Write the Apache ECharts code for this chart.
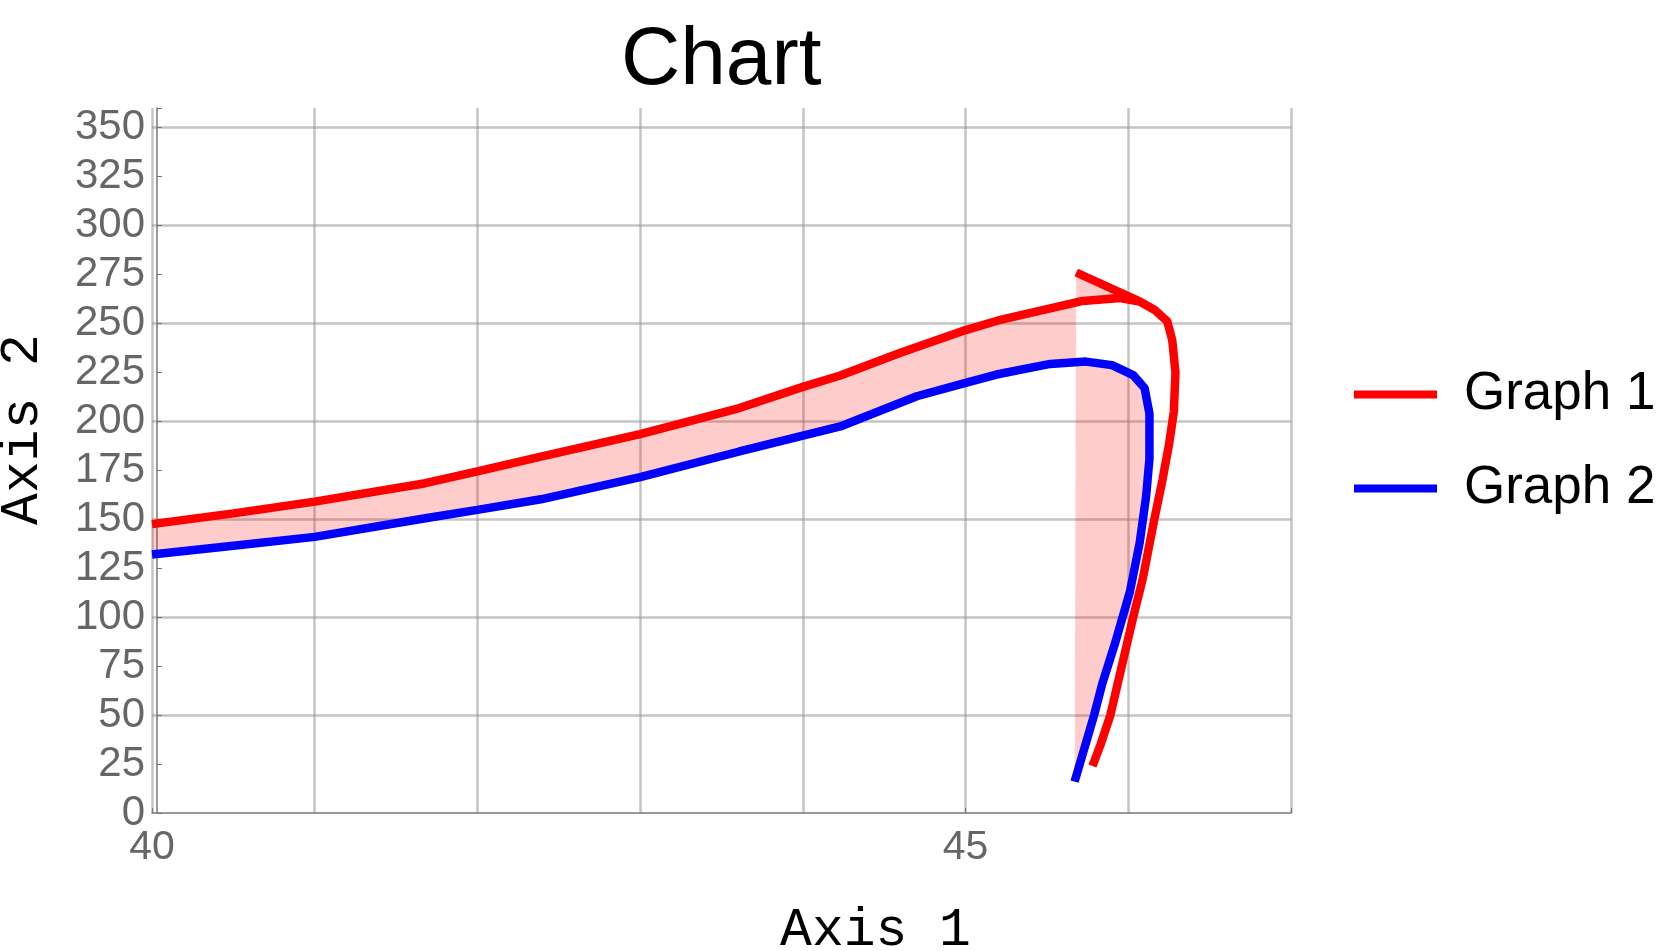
<!DOCTYPE html>
<html>
<head>
<meta charset="utf-8">
<script src="https://cdn.jsdelivr.net/npm/echarts@6/dist/echarts.min.js"></script>
<style>html,body{margin:0;padding:0;background:#fff}#c{width:1679px;height:951px}</style>
</head>
<body>
<div id="c"></div>
<script>
// ---- data ----
const seriesNames = ['Graph 1', 'Graph 2'];
const graph1X = [40.0, 40.5, 41.0, 41.68, 42.0, 42.39, 43.0, 43.61, 44.0, 44.23, 44.6, 45.0, 45.2, 45.46, 45.72, 45.95, 46.07, 46.16, 46.24, 46.27, 46.29, 46.28, 46.25, 46.21, 46.16, 46.09, 46.03, 45.96, 45.89, 45.83, 45.78];
const graph1Y = [147.5, 153.0, 159.0, 168.4, 174.4, 182.0, 193.5, 206.8, 217.6, 223.4, 235.0, 246.6, 251.5, 256.5, 261.5, 263.0, 261.2, 257.0, 251.0, 241.5, 225.0, 205.0, 188.0, 170.0, 150.0, 120.0, 100.0, 75.0, 50.0, 35.0, 24.0];
const graph1JoinIndex = 16;           // point where the extra segment meets the curve
const graph1ExtraX = [45.68];         // start of the extra straight segment
const graph1ExtraY = [276.0];
const graph2X = [40.0, 40.5, 41.0, 41.68, 42.0, 42.39, 43.0, 43.61, 44.0, 44.23, 44.7, 45.0, 45.19, 45.52, 45.74, 45.90, 46.03, 46.10, 46.13, 46.13, 46.11, 46.07, 46.01, 45.92, 45.84, 45.79, 45.67];
const graph2Y = [132.0, 136.5, 141.0, 150.5, 154.8, 160.2, 171.5, 184.6, 192.7, 197.4, 212.8, 219.6, 223.9, 229.3, 230.5, 228.7, 223.6, 217.0, 204.0, 181.0, 162.0, 138.0, 113.0, 87.0, 66.0, 50.0, 16.0];
const xLabelValues = [40, 45];
const yLabelValues = [0, 25, 50, 75, 100, 125, 150, 175, 200, 225, 250, 275, 300, 325, 350];

// ---- build ----
const g1 = graph1X.map((x, i) => [x, graph1Y[i]]);
g1.push(['-', '-']);
g1.push([graph1ExtraX[0], graph1ExtraY[0]]);
g1.push([graph1X[graph1JoinIndex], graph1Y[graph1JoinIndex]]);
const g2 = graph2X.map((x, i) => [x, graph2Y[i]]);

const chart = echarts.init(document.getElementById('c'), null, {renderer: 'canvas'});
const sans = 'Liberation Sans, Arial, sans-serif';
const mono = 'Liberation Mono, Courier New, monospace';
const gridColor = 'rgba(150,150,150,0.55)';

chart.setOption({
  backgroundColor: '#ffffff',
  animation: false,
  title: {
    text: 'Chart', left: 616, top: 15,
    textStyle: {fontFamily: sans, fontSize: 82, fontWeight: 'normal', color: '#000'}
  },
  legend: {
    data: seriesNames, orient: 'vertical', left: 1349, top: 363,
    itemWidth: 83, itemHeight: 8, itemGap: 41, icon: 'rect',
    textStyle: {fontFamily: sans, fontSize: 53, color: '#000', padding: [0, 0, 0, 22]}
  },
  grid: {left: 152, right: 388, top: 108, bottom: 138, containLabel: false, outerBoundsMode: 'none'},
  xAxis: [{
    type: 'value', min: 40, max: 47, interval: 5,
    name: 'Axis 1', nameLocation: 'middle', nameGap: 91,
    nameTextStyle: {fontFamily: mono, fontSize: 53, color: '#000', padding: [0, 0, 0, 308]},
    axisLine: {show: true, onZero: false, lineStyle: {color: '#777', width: 1.5}},
    axisTick: {show: true, inside: true, length: 5, lineStyle: {color: '#777'}},
    axisLabel: {fontFamily: sans, fontSize: 41, color: '#666', margin: 14,
      formatter: v => xLabelValues.indexOf(v) >= 0 ? String(v) : ''},
    splitLine: {show: false}
  }, {
    type: 'value', min: 40, max: 47, interval: 1, position: 'bottom',
    axisLine: {show: false}, axisTick: {show: false}, axisLabel: {show: false},
    splitLine: {show: true, lineStyle: {color: gridColor, width: 2.5}}
  }],
  yAxis: [{
    type: 'value', min: 0, max: 360, interval: 25, offset: -5,
    name: 'Axis 2', nameLocation: 'middle', nameGap: 108, nameRotate: 90,
    nameTextStyle: {fontFamily: mono, fontSize: 53, color: '#000', padding: [0, 0, 0, 62]},
    axisLine: {show: true, onZero: false, lineStyle: {color: '#777', width: 1.5}},
    axisTick: {show: true, inside: true, length: 5, lineStyle: {color: '#777'}},
    axisLabel: {fontFamily: sans, fontSize: 42, color: '#666', margin: 12,
      formatter: v => yLabelValues.indexOf(v) >= 0 ? String(v) : ''},
    splitLine: {show: false}
  }, {
    type: 'value', min: 0, max: 360, interval: 50, position: 'left',
    axisLine: {show: false}, axisTick: {show: false}, axisLabel: {show: false},
    splitLine: {show: true, showMinLine: false, showMaxLine: false, lineStyle: {color: gridColor, width: 2.5}}
  }],
  series: [{
    type: 'custom', name: 'fill', xAxisIndex: 0, yAxisIndex: 0, silent: true, z: 1,
    data: [[graph1X[0], graph1Y[0]]],
    renderItem: function (params, api) {
      const pts = [];
      for (let i = 0; i <= graph1JoinIndex; i++) pts.push(api.coord([graph1X[i], graph1Y[i]]));
      pts.push(api.coord([graph1ExtraX[0], graph1ExtraY[0]]));
      for (let i = graph2X.length - 1; i >= 0; i--) pts.push(api.coord([graph2X[i], graph2Y[i]]));
      return {type: 'polygon', shape: {points: pts}, style: {fill: 'rgba(255,0,0,0.2)'}};
    }
  }, {
    type: 'line', name: seriesNames[0], data: g1, xAxisIndex: 0, yAxisIndex: 0,
    showSymbol: false, symbol: 'none', connectNulls: false, z: 3,
    lineStyle: {color: '#ff0000', width: 8.5}, itemStyle: {color: '#ff0000'}
  }, {
    type: 'line', name: seriesNames[1], data: g2, xAxisIndex: 0, yAxisIndex: 0,
    showSymbol: false, symbol: 'none', z: 3,
    lineStyle: {color: '#0000ff', width: 8.5}, itemStyle: {color: '#0000ff'}
  }]
});
</script>
</body>
</html>
